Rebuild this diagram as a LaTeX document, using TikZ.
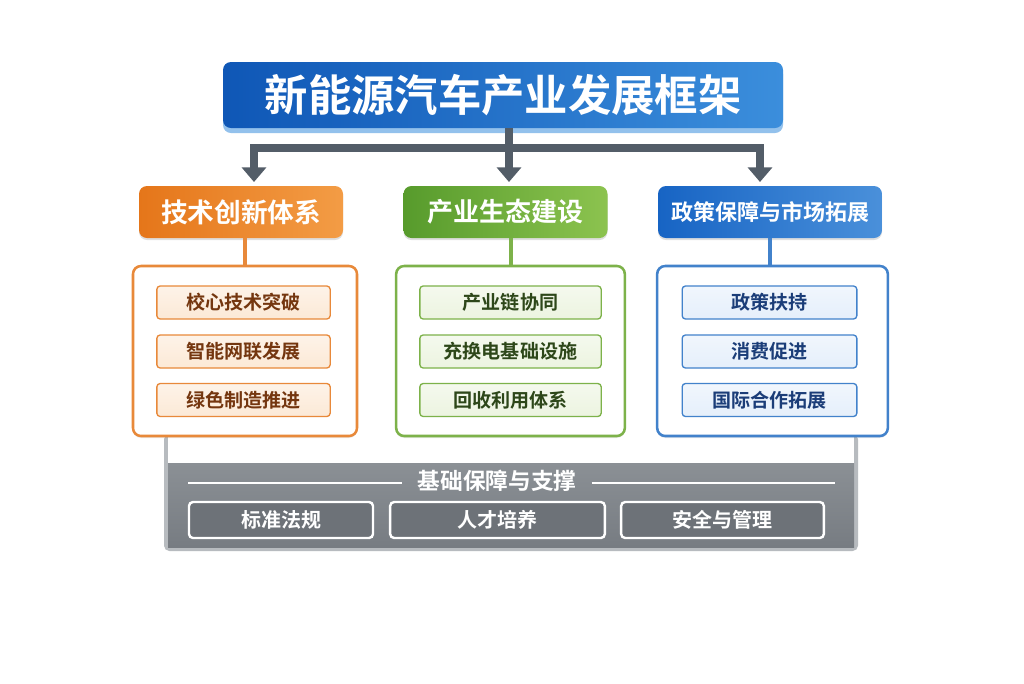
\documentclass[tikz,border=0pt]{standalone}
\usepackage{fontspec}
\newfontfamily\cjk{Noto Sans CJK SC}[BoldFont={Noto Sans CJK SC Bold}]
\usetikzlibrary{arrows.meta,shadows}
\definecolor{arrowgray}{HTML}{535D68}
\definecolor{orgA}{HTML}{E5761A}
\definecolor{orgB}{HTML}{F39C45}
\definecolor{orgLine}{HTML}{E8893A}
\definecolor{orgFill}{HTML}{FCE9D6}
\definecolor{orgText}{HTML}{74360F}
\definecolor{grnA}{HTML}{579B2C}
\definecolor{grnB}{HTML}{8CC34F}
\definecolor{grnLine}{HTML}{7DB24A}
\definecolor{grnFill}{HTML}{ECF4E0}
\definecolor{grnText}{HTML}{2D4719}
\definecolor{bluA}{HTML}{1764C4}
\definecolor{bluB}{HTML}{4A90DA}
\definecolor{bluLine}{HTML}{4282CB}
\definecolor{bluFill}{HTML}{E5EFFB}
\definecolor{bluText}{HTML}{1B3D78}
\definecolor{ttlA}{HTML}{0F57B6}
\definecolor{ttlB}{HTML}{3B8EDC}
\definecolor{bandA}{HTML}{8B9095}
\definecolor{bandB}{HTML}{777C82}
\definecolor{frameGray}{HTML}{B7BBBF}
\tikzset{
  hdr/.style={draw=none, rounded corners=6pt, minimum height=39pt, text=white,
    font=\cjk\bfseries, inner sep=0pt, drop shadow={shadow xshift=0pt, shadow yshift=-1.5pt, opacity=0.25}},
  cbox/.style={draw, line width=1.9pt, fill=white, rounded corners=6pt, minimum height=127.5pt,
    drop shadow={shadow xshift=0pt, shadow yshift=-1.5pt, opacity=0.15}},
  item/.style={draw, line width=1pt, rounded corners=2.5pt, minimum height=24.75pt,
    font=\cjk\bfseries\fontsize{14.3}{16}\selectfont, inner sep=0pt},
  link/.style={line width=3pt},
  bigarr/.style={draw=arrowgray, line width=5.5pt, line join=miter, -{Triangle[width=18pt,length=11pt]}},
  btn/.style={draw=white, line width=1.8pt, rounded corners=3pt, fill=bandB!92!black,
    minimum height=27pt, text=white, font=\cjk\bfseries\fontsize{15}{17}\selectfont, inner sep=0pt},
}
\begin{document}
\begin{tikzpicture}[x=0.75pt,y=-0.75pt]
\useasboundingbox (0,0) rectangle (1024,683);
\fill[white] (0,0) rectangle (1024,683);

% bottom foundation frame
\fill[frameGray, rounded corners=4pt] (164,434) rectangle (858,551);
\fill[white] (168,428) rectangle (854,463);
\shade[top color=bandA, bottom color=bandB] (168,463) rectangle (854,547);
\node[text=white, font=\cjk\bfseries\fontsize{17}{19}\selectfont] (base) at (497,481) {基础保障与支撑};
\coordinate (bl) at (188,483);
\coordinate (br) at (835,483);
\draw[white, line width=1.3pt] (bl) -- ([xshift=-8pt]base.west |- bl);
\draw[white, line width=1.3pt] ([xshift=8pt]base.east |- br) -- (br);
\node[btn, minimum width=138pt] (b1) at (281,520) {标准法规};
\node[btn, minimum width=161pt] (b2) at (497.5,520) {人才培养};
\node[btn, minimum width=152pt] (b3) at (722.5,520) {安全与管理};

% title
\fill[color=ttlB!55!white, rounded corners=6pt] (223,66) rectangle (783,133);
\node[draw=none, left color=ttlA, right color=ttlB, rounded corners=6pt, minimum width=420pt,
  minimum height=49.5pt, text=white, font=\cjk\bfseries\fontsize{32.5}{35}\selectfont, inner sep=0pt] (title) at (503,95) {新能源汽车产业发展框架};

% headers
\node[hdr, left color=orgA, right color=orgB, minimum width=153pt, font=\cjk\bfseries\fontsize{20}{22}\selectfont] (h1) at (241,212) {技术创新体系};
\node[hdr, left color=grnA, right color=grnB, minimum width=153pt, font=\cjk\bfseries\fontsize{19.5}{22}\selectfont] (h2) at (505.5,212) {产业生态建设};
\node[hdr, left color=bluA, right color=bluB, minimum width=168pt, font=\cjk\bfseries\fontsize{16.5}{19}\selectfont] (h3) at (770,212) {政策保障与市场拓展};

% arrows from title
\coordinate (j) at (509,148);
\coordinate (t1) at (254,182);
\coordinate (t2) at (509,182);
\coordinate (t3) at (760,182);
\draw[arrowgray, line width=5.5pt] (title.south -| j) -- (j);
\draw[bigarr] (j) -| (t1);
\draw[bigarr] (j) -- (t2);
\draw[bigarr] (j) -| (t3);

% content boxes
\node[cbox, draw=orgLine, minimum width=168pt] (c1) at (245,351) {};
\node[cbox, draw=grnLine, minimum width=171.5pt] (c2) at (510.5,351) {};
\node[cbox, draw=bluLine, minimum width=173pt] (c3) at (772.5,351) {};

\draw[link, orgLine] (h1.south -| c1) -- (c1.north);
\draw[link, grnLine] (h2.south -| c2) -- (c2.north);
\draw[link, bluLine] (h3.south) -- (h3.south |- c3.north);

% items
\foreach \n/\y/\t in {1/302.5/校心技术突破, 2/351.5/智能网联发展, 3/400/绿色制造推进}
  \node[item, draw=orgLine, top color=orgFill!55!white, bottom color=orgFill, text=orgText, minimum width=130pt] (o\n) at (243.5,\y) {\t};
\foreach \n/\y/\t in {1/302.5/产业链协同, 2/351.5/充换电基础设施, 3/400/回收利用体系}
  \node[item, draw=grnLine, top color=grnFill!55!white, bottom color=grnFill, text=grnText, minimum width=136pt] (g\n) at (510.5,\y) {\t};
\foreach \n/\y/\t in {1/302.5/政策扶持, 2/351.5/消费促进, 3/400/国际合作拓展}
  \node[item, draw=bluLine, top color=bluFill!55!white, bottom color=bluFill, text=bluText, minimum width=131pt] (u\n) at (769.5,\y) {\t};
\end{tikzpicture}
\end{document}
